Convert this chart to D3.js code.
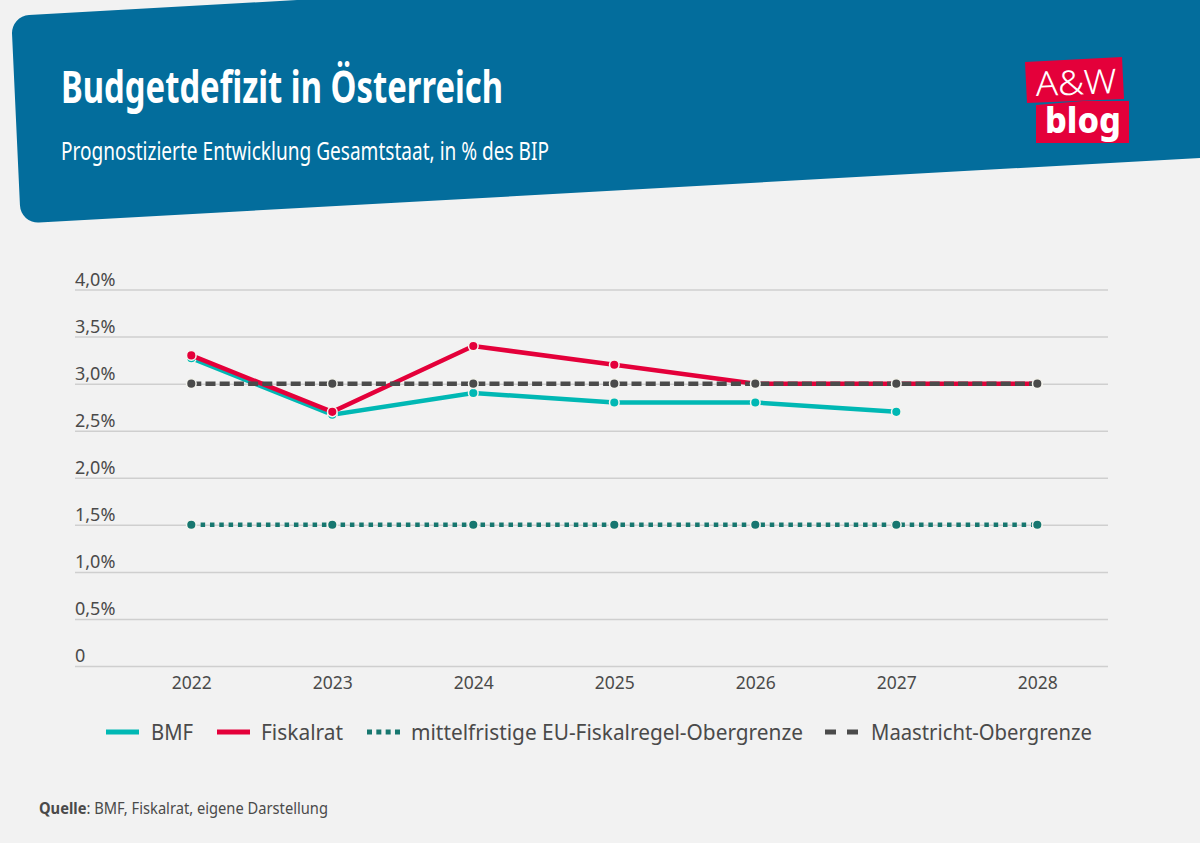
<!DOCTYPE html>
<html lang="de">
	<head>
		<meta charset="utf-8">
		<title>Budgetdefizit in Österreich</title>
		<script type="text/javascript" src="https://cdn.jsdelivr.net/npm/d3@7"></script>
		<style type="text/css">
			html, body{
				margin: 0;
				padding: 0;
				background: #f2f2f2;
			}
			svg{
				display: block;
			}
			text{
				font-family: "Noto Sans", "Open Sans", sans-serif;
				fill: #4a4a4a;
			}
			.head{
				fill: #fff;
			}
		</style>
	</head>
	<body>
		<div class="chart"></div>
		<script type="text/javascript">

			var years = ["2022", "2023", "2024", "2025", "2026", "2027", "2028"];
			var bmf = [3.27, 2.67, 2.9, 2.8, 2.8, 2.7];
			var fiskalrat = [3.3, 2.7, 3.4, 3.2, 3.0, 3.0, 3.0];
			var euLimit = [1.5, 1.5, 1.5, 1.5, 1.5, 1.5, 1.5];
			var maastricht = [3.0, 3.0, 3.0, 3.0, 3.0, 3.0, 3.0];
			var yTicks = [0, 0.5, 1, 1.5, 2, 2.5, 3, 3.5, 4];
			var yTickLabels = ["0", "0,5%", "1,0%", "1,5%", "2,0%", "2,5%", "3,0%", "3,5%", "4,0%"];
			var legendLabels = ["BMF", "Fiskalrat", "mittelfristige EU-Fiskalregel-Obergrenze", "Maastricht-Obergrenze"];

			var w = 1200;
			var h = 843;

			var blue = "#036d9c";
			var red = "#e4003a";
			var teal = "#00b8b4";
			var green = "#17776f";
			var grey = "#4b4b4b";

			var svg = d3.select("div.chart")
						.append("svg")
						.attr("width", w)
						.attr("height", h);

			svg.append("rect")
				.attr("width", w)
				.attr("height", h)
				.attr("fill", "#f2f2f2");

			// header shape, slanted with rounded corners on the left
			var head = d3.path();
			head.moveTo(297, 0);
			head.lineTo(1200, 0);
			head.lineTo(1200, 158);
			head.lineTo(400, 202.5);
			head.arcTo(20.8, 223.5, 15, 100, 18);
			head.arcTo(11.2, 16, 120, 10, 18);
			head.closePath();

			svg.append("path")
				.attr("d", head.toString())
				.attr("fill", blue);

			svg.append("text")
				.attr("class", "head")
				.attr("x", 61)
				.attr("y", 103)
				.attr("font-size", 44)
				.attr("font-weight", 700)
				.attr("textLength", 442)
				.attr("lengthAdjust", "spacingAndGlyphs")
				.text("Budgetdefizit in Österreich");

			svg.append("text")
				.attr("class", "head")
				.attr("x", 61)
				.attr("y", 160)
				.attr("font-size", 26)
				.attr("textLength", 488)
				.attr("lengthAdjust", "spacingAndGlyphs")
				.text("Prognostizierte Entwicklung Gesamtstaat, in % des BIP");

			// logo
			var logo = svg.append("g");
			logo.append("polygon")
				.attr("points", "1025,62 1122,57 1124,99 1027,103")
				.attr("fill", red);
			logo.append("polygon")
				.attr("points", "1083,101 1129,101 1129,143 1036,143 1036,105")
				.attr("fill", red);
			logo.append("text")
				.attr("x", 1036)
				.attr("y", 96)
				.attr("font-size", 34)
				.attr("font-weight", 300)
				.attr("textLength", 81)
				.attr("lengthAdjust", "spacingAndGlyphs")
				.attr("transform", "rotate(-2 1036 96)")
				.style("fill", "#fff")
				.text("A&W");
			logo.append("text")
				.attr("x", 1045)
				.attr("y", 133)
				.attr("font-size", 35)
				.attr("font-weight", 800)
				.attr("textLength", 76)
				.attr("lengthAdjust", "spacingAndGlyphs")
				.style("fill", "#fff")
				.text("blog");

			var xScale = d3.scalePoint()
							.domain(years)
							.range([191.3, 1037.3]);

			var yScale = d3.scaleLinear()
							.domain([0, 4])
							.range([666, 289.5]);

			var yAxis = d3.axisLeft(yScale)
							.tickValues(yTicks)
							.tickSize(-1033)
							.tickFormat((d, i) => yTickLabels[i]);

			var xAxis = d3.axisBottom(xScale)
							.tickSize(0)
							.tickPadding(11);

			var gy = svg.append("g")
				.attr("class", "yAxis")
				.attr("transform", "translate(75,0)")
				.call(yAxis);
			gy.select(".domain").remove();
			gy.selectAll("line")
				.attr("stroke", "#cfcfcf")
				.attr("stroke-width", 1.5);
			gy.selectAll("text")
				.attr("x", 0)
				.attr("dy", "-4.5px")
				.attr("text-anchor", "start")
				.attr("font-size", 18)
				.style("fill", "#4a4a4a");

			var gx = svg.append("g")
				.attr("class", "xAxis")
				.attr("transform", "translate(0,666)")
				.call(xAxis);
			gx.select(".domain").remove();
			gx.selectAll("text")
				.attr("font-size", 17.5)
				.style("fill", "#4a4a4a");

			var line = d3.line()
						.x((d, i) => xScale(years[i]))
						.y((d) => yScale(d));

			// drawing order as in the picture: grey dashes run over the red line
			var series = [
				{values: bmf, color: teal, dash: null},
				{values: fiskalrat, color: red, dash: null},
				{values: euLimit, color: green, dash: "4.5 4.83"},
				{values: maastricht, color: grey, dash: "10 4.2"}
			];

			series.forEach(function(s){
				svg.append("path")
					.datum(s.values)
					.attr("d", line)
					.attr("fill", "none")
					.attr("stroke", s.color)
					.attr("stroke-width", 4.5)
					.attr("stroke-dasharray", s.dash);
				svg.append("g")
					.selectAll("circle")
					.data(s.values)
					.enter()
					.append("circle")
					.attr("cx", (d, i) => xScale(years[i]))
					.attr("cy", (d) => yScale(d))
					.attr("r", 4.8)
					.attr("fill", s.color)
					.attr("stroke", "#f5f5ef")
					.attr("stroke-width", 1.5);
			});

			// legend
			var legendX = [106, 217, 367, 825];
			var legendTextX = [151, 261, 411, 871];
			var legendTextW = [42, 82, 392, 221];
			var legendDash = [null, null, "5 4.33", "11 11"];
			var legendColor = [teal, red, green, grey];

			var legend = svg.append("g")
				.selectAll("g")
				.data(legendLabels)
				.enter()
				.append("g");

			legend.append("line")
				.attr("x1", (d, i) => legendX[i])
				.attr("x2", (d, i) => legendX[i] + 33)
				.attr("y1", 732)
				.attr("y2", 732)
				.attr("stroke", (d, i) => legendColor[i])
				.attr("stroke-width", 5)
				.attr("stroke-dasharray", (d, i) => legendDash[i]);

			legend.append("text")
				.attr("x", (d, i) => legendTextX[i])
				.attr("y", 740)
				.attr("font-size", 21)
				.attr("textLength", (d, i) => legendTextW[i])
				.attr("lengthAdjust", "spacingAndGlyphs")
				.text((d) => d);

			// source
			var source = svg.append("text")
				.attr("x", 39)
				.attr("y", 814)
				.attr("font-size", 16)
				.attr("textLength", 289)
				.attr("lengthAdjust", "spacingAndGlyphs");
			source.append("tspan")
				.attr("font-weight", 700)
				.text("Quelle");
			source.append("tspan")
				.text(": BMF, Fiskalrat, eigene Darstellung");
		</script>
	</body>
</html>
